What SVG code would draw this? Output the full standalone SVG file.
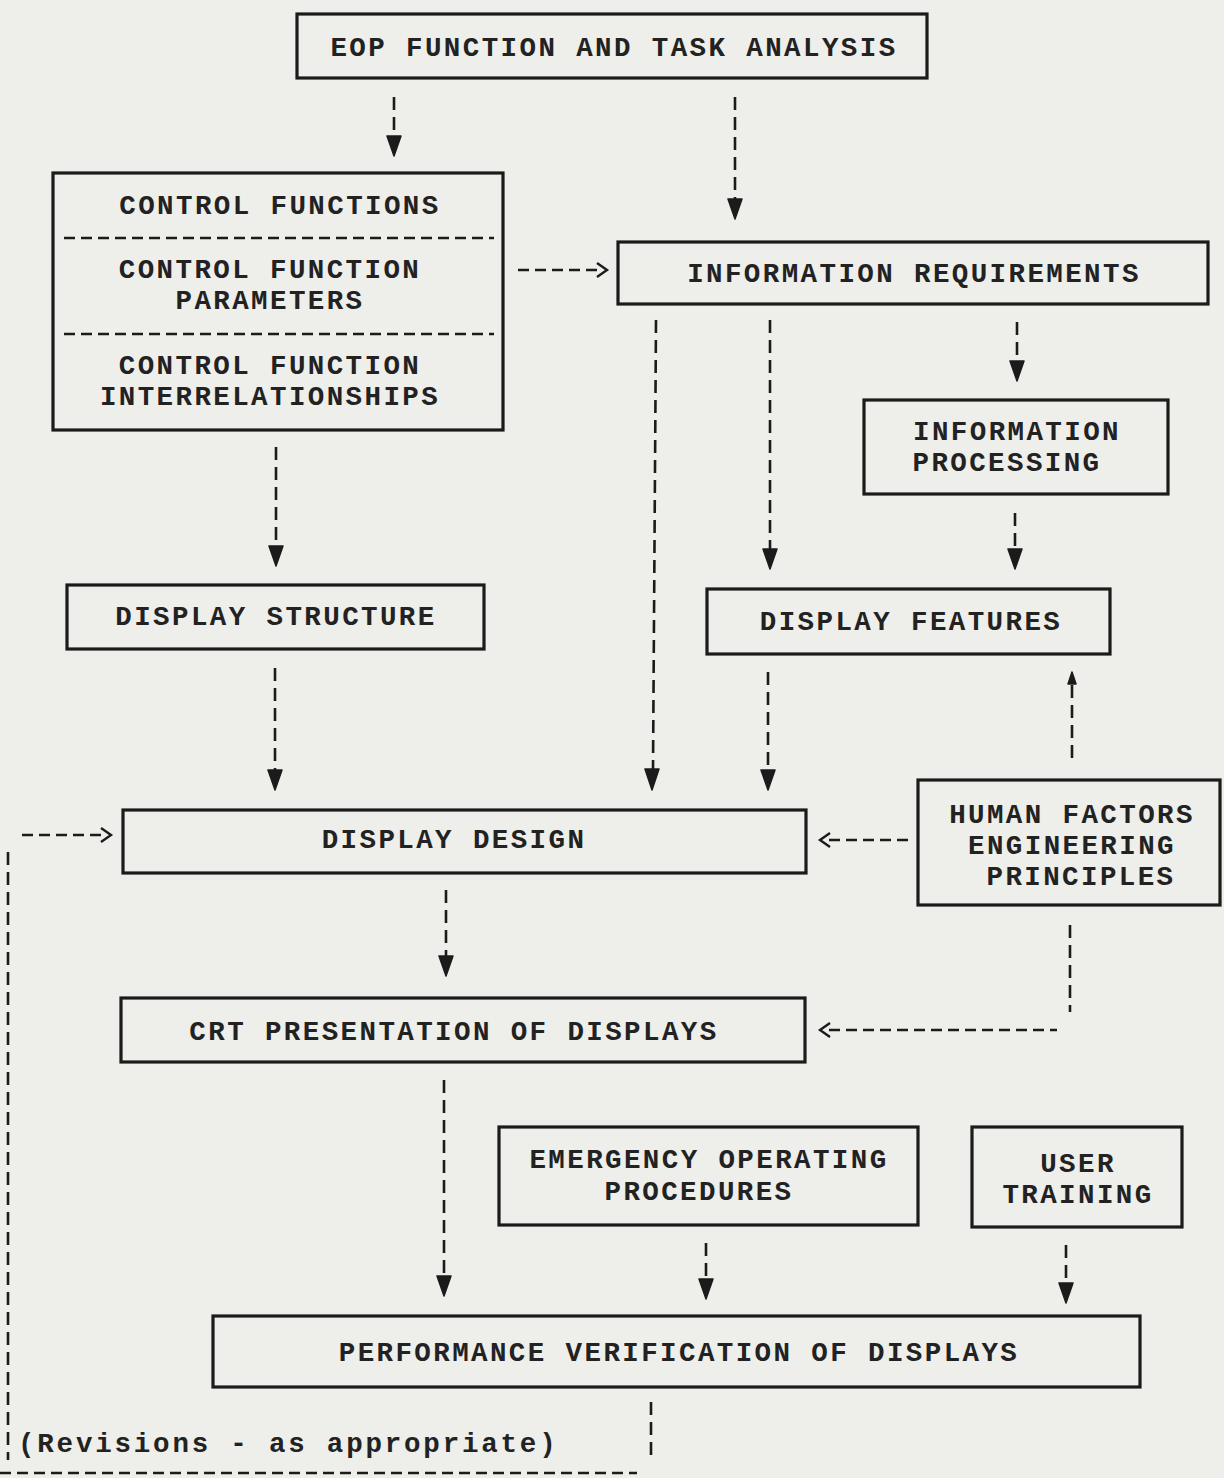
<svg xmlns="http://www.w3.org/2000/svg" width="1224" height="1478" viewBox="0 0 1224 1478">
<style>
.box{fill:none;stroke:#1b1b1b;stroke-width:3.2}
.t{font-family:"Liberation Mono","Courier New",monospace;font-size:27.5px;letter-spacing:2.4px;font-weight:bold;fill:#222;text-anchor:middle}
.tl{font-family:"Liberation Mono","Courier New",monospace;font-size:27.5px;letter-spacing:2.8px;font-weight:bold;fill:#222}
.d{fill:none;stroke:#1b1b1b;stroke-width:2.6;stroke-dasharray:13 7}
.dh{fill:none;stroke:#1b1b1b;stroke-width:2.6;stroke-dasharray:11 6}
.ch{fill:none;stroke:#1b1b1b;stroke-width:2.4}
.ah{fill:#1b1b1b;stroke:#1b1b1b;stroke-width:1.5;stroke-linejoin:round}
</style>
<rect width="1224" height="1478" fill="#eeeeea"/>

<g id="eop-analysis">
<rect class="box" x="297" y="14" width="630" height="64"/>
<text class="t" x="614" y="56">EOP FUNCTION AND TASK ANALYSIS</text>
</g>
<g id="control-functions">
<rect class="box" x="53" y="173" width="450" height="257"/>
<line class="dh" x1="64" y1="238" x2="494" y2="238"/>
<line class="dh" x1="64" y1="334" x2="494" y2="334"/>
<text class="t" x="280" y="214">CONTROL FUNCTIONS</text>
<text class="t" x="270" y="278">CONTROL FUNCTION</text>
<text class="t" x="270" y="309">PARAMETERS</text>
<text class="t" x="270" y="374">CONTROL FUNCTION</text>
<text class="t" x="270" y="405">INTERRELATIONSHIPS</text>
</g>
<g id="information-requirements">
<rect class="box" x="618" y="242" width="590" height="62"/>
<text class="t" x="914" y="282">INFORMATION REQUIREMENTS</text>
</g>
<g id="information-processing">
<rect class="box" x="864" y="400" width="304" height="94"/>
<text class="t" x="1017" y="440">INFORMATION</text>
<text class="t" x="1007" y="471">PROCESSING</text>
</g>
<g id="display-structure">
<rect class="box" x="67" y="585" width="417" height="64"/>
<text class="t" x="276" y="625">DISPLAY STRUCTURE</text>
</g>
<g id="display-features">
<rect class="box" x="707" y="589" width="403" height="65"/>
<text class="t" x="911" y="630">DISPLAY FEATURES</text>
</g>
<g id="display-design">
<rect class="box" x="123" y="810" width="683" height="63"/>
<text class="t" x="454" y="848">DISPLAY DESIGN</text>
</g>
<g id="human-factors">
<rect class="box" x="918" y="780" width="302" height="125"/>
<text class="t" x="1072" y="823">HUMAN FACTORS</text>
<text class="t" x="1072" y="854">ENGINEERING</text>
<text class="t" x="1081" y="885">PRINCIPLES</text>
</g>
<g id="crt-presentation">
<rect class="box" x="121" y="998" width="684" height="64"/>
<text class="t" x="454" y="1040">CRT PRESENTATION OF DISPLAYS</text>
</g>
<g id="emergency-procedures">
<rect class="box" x="499" y="1127" width="419" height="98"/>
<text class="t" x="709" y="1168">EMERGENCY OPERATING</text>
<text class="t" x="699" y="1200">PROCEDURES</text>
</g>
<g id="user-training">
<rect class="box" x="972" y="1127" width="210" height="100"/>
<text class="t" x="1078" y="1172">USER</text>
<text class="t" x="1078" y="1203">TRAINING</text>
</g>
<g id="performance-verification">
<rect class="box" x="213" y="1316" width="927" height="71"/>
<text class="t" x="679" y="1361">PERFORMANCE VERIFICATION OF DISPLAYS</text>
</g>
<g id="revisions-label">
<text class="tl" x="18" y="1452">(Revisions - as appropriate)</text>
</g>

<g id="connectors">
<line class="d" x1="394" y1="97" x2="394" y2="138"/>
<path class="ah" d="M387,136 L401,136 L394,156 Z"/>
<line class="d" x1="735" y1="97" x2="735" y2="200"/>
<path class="ah" d="M728,199 L742,199 L735,219 Z"/>
<line class="dh" x1="518" y1="270" x2="600" y2="270"/>
<polyline class="ch" points="597,263 607,270 597,277"/>
<line class="d" x1="656" y1="320" x2="653" y2="770"/>
<path class="ah" d="M645,769 L659,769 L652,790 Z"/>
<line class="d" x1="770" y1="320" x2="770" y2="550"/>
<path class="ah" d="M763,549 L777,549 L770,569 Z"/>
<line class="d" x1="1017" y1="322" x2="1017" y2="362"/>
<path class="ah" d="M1010,361 L1024,361 L1017,381 Z"/>
<line class="d" x1="1015" y1="513" x2="1015" y2="550"/>
<path class="ah" d="M1008,549 L1022,549 L1015,569 Z"/>
<line class="d" x1="276" y1="447" x2="276" y2="547"/>
<path class="ah" d="M269,546 L283,546 L276,566 Z"/>
<line class="d" x1="275" y1="668" x2="275" y2="771"/>
<path class="ah" d="M268,770 L282,770 L275,790 Z"/>
<line class="d" x1="768" y1="672" x2="768" y2="771"/>
<path class="ah" d="M761,770 L775,770 L768,790 Z"/>
<line class="d" x1="1072" y1="758" x2="1072" y2="684"/>
<path class="ah" d="M1068,684 L1076,684 L1072,672 Z"/>
<line class="dh" x1="829" y1="840" x2="910" y2="840"/>
<polyline class="ch" points="830,833 820,840 830,847"/>
<line class="d" x1="1070" y1="925" x2="1070" y2="1012"/>
<line class="dh" x1="829" y1="1030" x2="1057" y2="1030"/>
<polyline class="ch" points="830,1023 820,1030 830,1037"/>
<line class="d" x1="446" y1="890" x2="446" y2="957"/>
<path class="ah" d="M439,956 L453,956 L446,976 Z"/>
<line class="d" x1="444" y1="1080" x2="444" y2="1277"/>
<path class="ah" d="M437,1276 L451,1276 L444,1296 Z"/>
<line class="d" x1="706" y1="1243" x2="706" y2="1280"/>
<path class="ah" d="M699,1279 L713,1279 L706,1299 Z"/>
<line class="d" x1="1066" y1="1245" x2="1066" y2="1284"/>
<path class="ah" d="M1059,1283 L1073,1283 L1066,1303 Z"/>
<line class="d" x1="651" y1="1402" x2="651" y2="1455"/>
<line class="dh" x1="0" y1="1473" x2="637" y2="1473"/>
<line class="d" x1="8" y1="852" x2="8" y2="1460"/>
<line class="dh" x1="22" y1="835" x2="104" y2="835"/>
<polyline class="ch" points="101,828 111,835 101,842"/>
</g>
</svg>
